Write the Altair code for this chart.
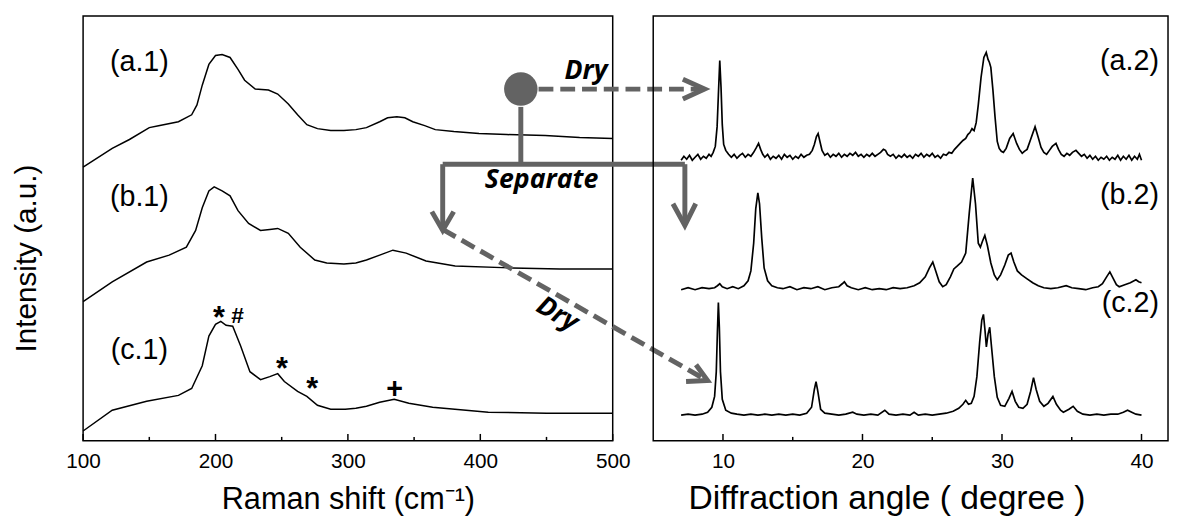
import altair as alt
import pandas as pd

# ---------------- Raman spectra (left panel), stacked intensities (a.u.) ----------------
raman_a_x = [100, 122, 135, 150, 157, 172, 182, 186, 190, 195, 200, 205, 211, 217, 222, 230, 240, 247, 255,
             262, 269, 277, 287, 297, 306, 314, 324, 330, 337, 343, 349, 358, 366, 380, 399, 420, 449, 475, 500]
raman_a_y = [277, 296, 305, 317, 319, 323, 330, 340, 360, 381, 390, 391, 388, 376, 365, 356, 355, 351, 341,
             330, 320, 316, 314, 314, 315, 317, 323, 327, 328, 327, 323, 319, 315, 313, 311, 310, 309, 307, 306]

raman_b_x = [100, 122, 148, 165, 178, 185, 190, 195, 199, 205, 211, 217, 225, 234, 241, 247, 255, 264, 275,
             284, 297, 306, 314, 324, 334, 344, 359, 381, 424, 460, 500]
raman_b_y = [141, 161, 181, 188, 196, 213, 236, 253, 257, 253, 248, 233, 220, 213, 214, 215, 210, 196, 183,
             180, 179, 180, 183, 188, 193, 190, 182, 177, 175, 174, 174]

raman_c_x = [100, 122, 148, 172, 182, 190, 195, 200, 204, 208, 213, 219, 226, 234, 241, 247, 252, 262, 269,
             277, 287, 298, 306, 314, 324, 335, 346, 364, 406, 450, 500]
raman_c_y = [10, 31, 40, 46, 53, 76, 106, 118, 121, 117, 116, 96, 70, 62, 65, 68, 60, 50, 45,
             36, 32, 32, 33, 35, 39, 42, 38, 34, 29, 28, 28]

raman_major = [100, 200, 300, 400, 500]
raman_minor = [150, 250, 350, 450]

raman_labels = ["(a.1)", "(b.1)", "(c.1)"]
raman_label_x = [142.5, 142.5, 142.5]
raman_label_y = [382, 246, 91]

# peak markers on (c.1)
marker_text = ["*", "*", "*", "#", "+"]
marker_x = [202.7, 250.2, 273.1, 216.7, 335.3]
marker_y = [132, 81, 60, 127, 53]

# ---------------- XRD patterns (right panel), stacked intensities (a.u.) ----------------
xrd_a_x = [7.0, 7.2, 7.4, 7.6, 7.8, 8.0, 8.2, 8.4, 8.6, 8.8, 9.0, 9.15, 9.3, 9.45, 9.58, 9.67, 9.77, 9.86,
           9.95, 10.05, 10.2, 10.4, 10.6, 10.8, 11.0, 11.2, 11.4, 11.6, 11.8, 12.0, 12.2, 12.4, 12.55, 12.7,
           12.85, 13.0, 13.2, 13.4, 13.6, 13.8, 14.0, 14.2, 14.4, 14.6, 14.8, 15.0, 15.2, 15.4, 15.6, 15.8,
           16.0, 16.2, 16.4, 16.55, 16.7, 16.82, 16.95, 17.1, 17.3, 17.5, 17.7, 17.9, 18.1, 18.3, 18.5, 18.7,
           18.9, 19.1, 19.3, 19.5, 19.7, 19.9, 20.1, 20.3, 20.5, 20.7, 20.9, 21.1, 21.3, 21.5, 21.65, 21.8,
           22.0, 22.2, 22.4, 22.6, 22.8, 23.0, 23.2, 23.4, 23.6, 23.8, 24.0, 24.2, 24.4, 24.6, 24.8, 25.0,
           25.2, 25.4, 25.6, 25.8, 26.0, 26.2, 26.4, 26.6, 26.8, 27.0, 27.2, 27.4, 27.55, 27.7, 27.85, 28.0,
           28.15, 28.3, 28.5, 28.7, 28.87, 29.0, 29.1, 29.2, 29.35, 29.5, 29.66, 29.8, 29.95, 30.1, 30.3,
           30.55, 30.8, 31.05, 31.25, 31.45, 31.6, 31.8, 32.05, 32.37, 32.6, 32.8, 33.0, 33.2, 33.4, 33.6,
           33.87, 34.05, 34.25, 34.45, 34.65, 34.85, 35.05, 35.3, 35.5, 35.7, 35.9, 36.1, 36.3, 36.5, 36.7,
           36.9, 37.1, 37.3, 37.5, 37.7, 37.9, 38.1, 38.3, 38.5, 38.7, 38.9, 39.1, 39.3, 39.5, 39.7, 39.85,
           40.0]
xrd_a_y = [284, 288, 285, 289, 284, 287, 290, 285, 288, 286, 290, 288, 292, 298, 318, 350, 385, 358,
           320, 300, 294, 290, 287, 290, 286, 289, 291, 287, 290, 288, 292, 297, 301, 295,
           290, 287, 290, 285, 288, 286, 289, 285, 290, 287, 289, 285, 288, 286, 290, 287,
           289, 290, 294, 300, 308, 311, 303, 294, 289, 291, 287, 290, 288, 291, 287, 290,
           288, 291, 289, 292, 288, 290, 287, 290, 288, 291, 288, 290, 292, 295, 294, 290,
           288, 290, 286, 289, 287, 290, 287, 289, 286, 290, 288, 291, 287, 290, 288, 291,
           287, 289, 286, 290, 289, 292, 291, 295, 298, 301, 304, 306, 310, 312, 316, 314,
           322, 340, 368, 388, 393, 386, 383, 378, 355, 328, 303, 296, 293, 292, 296,
           306, 311, 301, 295, 291, 293, 295, 305, 318, 307, 297, 292, 290, 294, 298,
           301, 295, 290, 288, 291, 289, 292, 294, 291, 288, 290, 286, 289, 285, 288,
           284, 287, 285, 288, 284, 287, 285, 289, 284, 288, 285, 289, 284, 288, 285, 290,
           284]

xrd_b_x = [7.0, 7.5, 8.0, 8.5, 9.0, 9.4, 9.6, 9.77, 9.95, 10.3, 10.7, 11.1, 11.5, 11.8, 12.0, 12.2, 12.35,
           12.5, 12.62, 12.78, 12.95, 13.2, 13.5, 13.9, 14.3, 14.8, 15.3, 15.8, 16.3, 16.8, 17.3, 17.8, 18.3,
           18.55, 18.7, 18.9, 19.2, 19.7, 20.2, 20.7, 21.2, 21.7, 22.2, 22.7, 23.2, 23.7, 24.1, 24.5, 24.8,
           25.04, 25.25, 25.5, 25.75, 26.0, 26.3, 26.55, 26.8, 27.1, 27.4, 27.65, 27.9, 28.1, 28.3, 28.45,
           28.6, 28.77, 28.95, 29.2, 29.45, 29.66, 29.9, 30.2, 30.45, 30.65, 30.85, 31.1, 31.4, 31.8, 32.2,
           32.6, 33.0, 33.5, 34.0, 34.6, 35.0, 35.5, 36.0, 36.5, 36.9, 37.2, 37.5, 37.73, 37.95, 38.2, 38.4,
           38.8, 39.2, 39.6, 39.8, 40.0]
xrd_b_y = [153, 155, 153, 155, 154, 155, 157, 159, 156, 154, 156, 154, 157, 162, 172, 200, 235,
           251, 240, 205, 175, 162, 157, 155, 154, 156, 153, 155, 154, 156, 153, 155, 156,
           159, 161, 157, 155, 153, 155, 153, 154, 153, 155, 154, 155, 157, 160, 166, 175,
           181, 172, 161, 156, 158, 166, 174, 177, 181, 190, 230, 266, 240, 200, 196,
           202, 208, 198, 180, 168, 163, 168, 178, 188, 190, 181, 172, 168, 164, 160,
           157, 155, 154, 155, 157, 155, 154, 153, 155, 156, 159, 166, 171, 165, 158, 156,
           158, 160, 163, 161, 160]

xrd_c_x = [7.0, 7.5, 8.0, 8.5, 8.9, 9.2, 9.4, 9.52, 9.6, 9.67, 9.74, 9.82, 9.95, 10.2, 10.6, 11.0, 11.5,
           12.0, 12.5, 13.0, 13.5, 14.0, 14.5, 15.0, 15.5, 16.0, 16.35, 16.55, 16.67, 16.8, 17.0, 17.3, 17.8,
           18.3, 18.8, 19.3, 19.6, 20.1, 20.6, 21.1, 21.6, 21.9, 22.4, 22.9, 23.4, 23.7, 24.0, 24.5, 25.0,
           25.5, 26.0, 26.5, 26.9, 27.2, 27.4, 27.6, 27.8, 28.0, 28.2, 28.4, 28.55, 28.67, 28.78, 28.88,
           29.0, 29.12, 29.25, 29.45, 29.66, 29.9, 30.2, 30.5, 30.72, 30.95, 31.2, 31.5, 31.8, 32.05, 32.26,
           32.45, 32.7, 33.0, 33.3, 33.65, 33.9, 34.2, 34.4, 34.8, 35.1, 35.4, 35.8, 36.3, 36.8, 37.3, 37.8,
           38.3, 38.7, 39.0, 39.3, 39.6, 40.0]
xrd_c_y = [26, 27, 26, 27, 29, 34, 45, 70, 110, 140, 115, 70, 42, 31, 28, 27, 26,
           27, 26, 27, 26, 27, 26, 27, 26, 28, 34, 52, 60, 50, 32, 28, 27,
           26, 27, 29, 27, 26, 27, 26, 31, 27, 26, 27, 26, 29, 26, 27, 26,
           27, 28, 30, 33, 37, 41, 37, 38, 45, 65, 100, 122, 128, 112, 95,
           108, 115, 95, 65, 44, 36, 35, 43, 50, 40, 34, 33, 37, 50, 64,
           52, 40, 35, 38, 45, 37, 31, 29, 32, 35, 30, 27, 26, 27, 26, 27,
           27, 29, 31, 29, 27, 26]

xrd_major = [10, 20, 30, 40]
xrd_minor = [15, 25, 35]

xrd_labels = ["(a.2)", "(b.2)", "(c.2)"]
xrd_label_x = [41.25, 41.25, 41.25]
xrd_label_y = [383, 248, 138]

# ---------------- process-flow annotation (left-panel coordinates, running across both panels) ----------------
dash_seg = ["dry1", "dry1", "dry2", "dry2"]
dash_x = [444.0, 566.0, 371.6, 569.0]
dash_y = [356, 356, 214, 62.8]

solid_seg = ["stem", "stem", "bar", "bar", "down1", "down1", "down2", "down2",
             "h1", "h1", "h1", "h2", "h2", "h2", "h3", "h3", "h3", "h4", "h4", "h4"]
solid_x = [430.6, 430.6, 371.6, 554.5, 371.6, 371.6, 554.5, 554.5,
           553.0, 569.4, 553.0, 363.4, 371.6, 379.9, 545.5, 554.5, 562.7, 562.9, 571.6, 555.4]
solid_y = [338, 280, 280, 280, 280, 216, 280, 220,
           366, 356, 346, 232, 213, 232, 240, 218, 240, 77, 61, 60]

node_x = [430.6]
node_y = [356]

step_text = ["Dry", "Separate"]
step_x = [479.9, 446.3]
step_y = [366, 256]
diag_text = ["Dry"]
diag_x = [458.2]
diag_y = [128]

GRAY = "#636363"
FONT = "Liberation Sans"
AFONT = "Open Sans"

# ---------------- frames ----------------
def series_df(xs, ys, name):
    return pd.DataFrame({"x": xs, "y": ys, "s": name, "o": list(range(len(xs)))})

raman_df = pd.concat([series_df(raman_a_x, raman_a_y, "a"),
                      series_df(raman_b_x, raman_b_y, "b"),
                      series_df(raman_c_x, raman_c_y, "c")])
xrd_df = pd.concat([series_df(xrd_a_x, xrd_a_y, "a"),
                    series_df(xrd_b_x, xrd_b_y, "b"),
                    series_df(xrd_c_x, xrd_c_y, "c")])

raman_x = alt.Scale(domain=[100, 500], nice=False, zero=False)
xrd_x = alt.Scale(domain=[5, 41.9], nice=False, zero=False)
y_scale = alt.Scale(domain=[0, 430], nice=False, zero=False)


def tick_layers(major, minor, xscale):
    lay = []
    for vals, ln in ((major, 7), (minor, 4)):
        lay.append(alt.Chart(pd.DataFrame({"x": vals})).mark_rule(color="black", strokeWidth=1.5).encode(
            x=alt.X("x:Q", scale=xscale),
            y=alt.value(430), y2=alt.value(430 - ln)))
    return lay


# ---------- left panel ----------
raman_lines = alt.Chart(raman_df).mark_line(color="black", strokeWidth=1.5).encode(
    x=alt.X("x:Q", scale=raman_x,
            axis=alt.Axis(title="Raman shift (cm⁻¹)", values=raman_major, format="d", ticks=False,
                          domain=False, grid=False, labelFontSize=21, labelPadding=10, labelFlush=False,
                          titleFontSize=31, titleX=268, titleY=68, titleBaseline="alphabetic",
                          titleAlign="center")),
    y=alt.Y("y:Q", scale=y_scale,
            axis=alt.Axis(title="Intensity (a.u.)", labels=False, ticks=False, domain=False, grid=False,
                          titleFontSize=30, titleX=-48, titleY=245, titleBaseline="alphabetic",
                          titleAlign="center", titleAngle=270)),
    detail="s:N", order="o:Q")

raman_lab = alt.Chart(pd.DataFrame({"x": raman_label_x, "y": raman_label_y, "t": raman_labels})).mark_text(
    font=FONT, fontSize=29, color="black", baseline="alphabetic", dy=8).encode(
    x="x:Q", y="y:Q", text="t:N")

mk = pd.DataFrame({"x": marker_x, "y": marker_y, "t": marker_text})
star = alt.Chart(mk).transform_filter(alt.datum.t == "*").mark_text(
    font=FONT, fontSize=31, fontWeight="bold", color="black", baseline="alphabetic", dy=18).encode(
    x="x:Q", y="y:Q", text="t:N")
hashm = alt.Chart(mk).transform_filter(alt.datum.t == "#").mark_text(
    font=FONT, fontSize=23, fontWeight="bold", color="black", baseline="alphabetic", dy=8).encode(
    x="x:Q", y="y:Q", text="t:N")
plus = alt.Chart(mk).transform_filter(alt.datum.t == "+").mark_text(
    font=FONT, fontSize=29, fontWeight="bold", color="black", baseline="alphabetic", dy=10).encode(
    x="x:Q", y="y:Q", text="t:N")

dash_df = pd.DataFrame({"x": dash_x, "y": dash_y, "s": dash_seg, "o": list(range(len(dash_x)))})
solid_df = pd.DataFrame({"x": solid_x, "y": solid_y, "s": solid_seg, "o": list(range(len(solid_x)))})

dashed = alt.Chart(dash_df).mark_line(color=GRAY, strokeWidth=5, strokeDash=[15, 7]).encode(
    x="x:Q", y="y:Q", detail="s:N", order="o:Q")
solid = alt.Chart(solid_df).mark_line(color=GRAY, strokeWidth=5, strokeJoin="miter").encode(
    x="x:Q", y="y:Q", detail="s:N", order="o:Q")
node = alt.Chart(pd.DataFrame({"x": node_x, "y": node_y})).mark_circle(
    size=1150, color=GRAY, opacity=1).encode(x="x:Q", y="y:Q")
steps = alt.Chart(pd.DataFrame({"x": step_x, "y": step_y, "t": step_text})).mark_text(
    font=AFONT, fontSize=27, fontStyle="italic", fontWeight="bold", color="black",
    baseline="alphabetic").encode(x="x:Q", y="y:Q", text="t:N")
diag = alt.Chart(pd.DataFrame({"x": diag_x, "y": diag_y, "t": diag_text})).mark_text(
    font=AFONT, fontSize=27, fontStyle="italic", fontWeight="bold", color="black",
    baseline="middle", angle=30).encode(x="x:Q", y="y:Q", text="t:N")

left = alt.layer(raman_lines, *tick_layers(raman_major, raman_minor, raman_x), raman_lab,
                 star, hashm, plus, dashed, solid, node, steps, diag).properties(width=536, height=430)

# ---------- right panel ----------
xrd_lines = alt.Chart(xrd_df).mark_line(color="black", strokeWidth=1.7).encode(
    x=alt.X("x:Q", scale=xrd_x,
            axis=alt.Axis(title="Diffraction angle ( degree )", values=xrd_major, format="d", ticks=False,
                          domain=False, grid=False, labelFontSize=21, labelPadding=10, labelFlush=False,
                          titleFontSize=34, titleX=236, titleY=68, titleBaseline="alphabetic",
                          titleAlign="center")),
    y=alt.Y("y:Q", scale=y_scale, axis=None),
    detail="s:N", order="o:Q")

xrd_lab = alt.Chart(pd.DataFrame({"x": xrd_label_x, "y": xrd_label_y, "t": xrd_labels})).mark_text(
    font=FONT, fontSize=29, color="black", baseline="alphabetic", align="right", dy=8).encode(
    x="x:Q", y="y:Q", text="t:N")

right = alt.layer(xrd_lines, *tick_layers(xrd_major, xrd_minor, xrd_x), xrd_lab).properties(
    width=521, height=430)

chart = alt.hconcat(left, right, spacing=41, bounds="flush").properties(
    padding={"left": 3, "top": 4, "right": 0, "bottom": 0}
).configure_view(stroke="black", strokeWidth=1.5).configure_axis(
    labelFont=FONT, titleFont=FONT, labelColor="black", titleColor="black", titleFontWeight="normal")

chart.save("out.html", embed_options={"renderer": "svg", "actions": False})
